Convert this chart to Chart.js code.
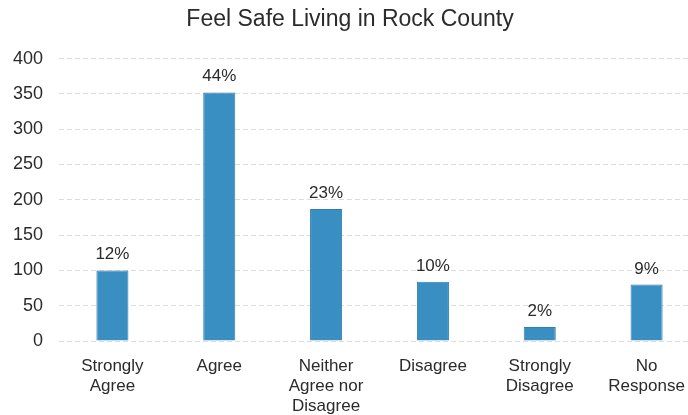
<!DOCTYPE html>
<html>
<head>
<meta charset="utf-8">
<script src="https://cdn.jsdelivr.net/npm/chart.js@4"></script>
<style>
    html, body { margin: 0; padding: 0; background: #fff; overflow: hidden; }
    #wrap { width: 700px; height: 415px; }
</style>
</head>
<body>
<div id="wrap"><canvas id="chart"></canvas></div>
<script>
// Survey responses
const categories = [
    ['Strongly', 'Agree'],
    ['Agree'],
    ['Neither', 'Agree nor', 'Disagree'],
    ['Disagree'],
    ['Strongly', 'Disagree'],
    ['No', 'Response'],
];
const counts = [100, 352, 187, 84, 20, 80];
const percentLabels = ['12%', '44%', '23%', '10%', '2%', '9%'];
const yTicks = [0, 50, 100, 150, 200, 250, 300, 350, 400];

const fontFamily = '"Liberation Sans", Arial, sans-serif';
const textColor = '#2b2b2b';

// percentages above each bar
const percentPlugin = {
    id: 'percentLabels',
    afterDatasetsDraw(chart) {
        const ctx = chart.ctx;
        const meta = chart.getDatasetMeta(0);
        ctx.save();
        ctx.font = '17px ' + fontFamily;
        ctx.fillStyle = textColor;
        ctx.textAlign = 'center';
        ctx.textBaseline = 'alphabetic';
        meta.data.forEach((bar, i) => {
            ctx.fillText(percentLabels[i], bar.x, bar.y - 11);
        });
        ctx.restore();
    },
};

new Chart(document.getElementById('chart'), {
    type: 'bar',
    data: {
        labels: categories,
        datasets: [{
            data: counts,
            backgroundColor: '#3a8fc2',
            borderColor: '#2f7fb0',
            borderWidth: 1,
            barPercentage: 0.3,
            categoryPercentage: 1,
        }],
    },
    options: {
        responsive: true,
        maintainAspectRatio: false,
        animation: false,
        layout: { padding: 0 },
        plugins: {
            legend: { display: false },
            tooltip: { enabled: false },
            title: {
                display: true,
                text: 'Feel Safe Living in Rock County',
                color: textColor,
                font: { family: fontFamily, size: 23, weight: 'normal' },
                padding: { top: 6, bottom: 25 },
            },
        },
        scales: {
            x: {
                grid: { display: false },
                border: { display: false },
                ticks: {
                    color: textColor,
                    font: { family: fontFamily, size: 17, lineHeight: 1.18 },
                    padding: 7,
                    maxRotation: 0,
                    autoSkip: false,
                },
                afterFit(scale) { scale.height = 74; },
            },
            y: {
                min: 0,
                max: 400,
                afterBuildTicks(scale) {
                    scale.ticks = yTicks.map(v => ({ value: v }));
                },
                grid: {
                    color: '#dcdcdc',
                    drawTicks: false,
                },
                border: { display: false, dash: [5, 3] },
                ticks: {
                    color: textColor,
                    font: { family: fontFamily, size: 18 },
                    padding: 16,
                },
                afterFit(scale) { scale.width = 59; },
            },
        },
    },
    plugins: [percentPlugin],
});
</script>
</body>
</html>
